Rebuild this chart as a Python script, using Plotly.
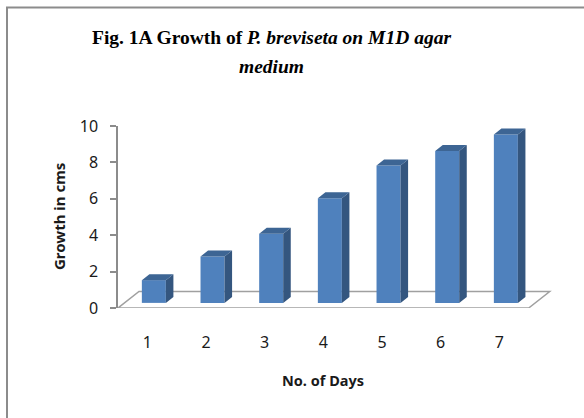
import plotly.graph_objects as go

# ---- data ----
days = [1, 2, 3, 4, 5, 6, 7]
day_labels = ["1", "2", "3", "4", "5", "6", "7"]
growth = [1.25, 2.55, 3.8, 5.75, 7.55, 8.35, 9.25]
y_ticks = [0, 2, 4, 6, 8, 10]

# ---- geometry / style ----
W, H = 584, 418
L, R, T, B = 118, 570, 126, 308          # plot area in pixels
XPX = 58.67                               # pixels per category
X0 = 0.5
X1 = X0 + (R - L) / XPX
YMAX = 10
DX = 21 / XPX                             # full depth offset (x units)
DY = 16.5 / ((B - T) / YMAX)              # full depth offset (y units)
D0, D1 = 0.31, 0.67                       # bar depth span (fraction)
BW = 24 / XPX                             # bar width

FRONT = "#4F81BD"
SIDE = "#34567F"
TOP = "#3D6594"
TXT = "#1A1A1A"


def px2paper_x(px):
    return (px - L) / (R - L)


def px2paper_y(py):
    return (B - py) / (B - T)


fig = go.Figure()

# front faces as bars
fig.add_trace(go.Bar(
    x=[d + D0 * DX for d in days],
    y=growth,
    base=[D0 * DY] * len(days),
    width=BW,
    marker=dict(color=FRONT, line=dict(width=0)),
    showlegend=False, hoverinfo="skip",
))

# side and top faces
ddx, ddy = (D1 - D0) * DX, (D1 - D0) * DY
sx, sy, tx, ty = [], [], [], []
for d, v in zip(days, growth):
    xl = d + D0 * DX - BW / 2
    xr = d + D0 * DX + BW / 2
    yb = D0 * DY
    yt = v + D0 * DY
    sx += [xr, xr + ddx, xr + ddx, xr, xr, None]
    sy += [yb, yb + ddy, yt + ddy, yt, yb, None]
    tx += [xl, xr, xr + ddx, xl + ddx, xl, None]
    ty += [yt, yt, yt + ddy, yt + ddy, yt, None]

fig.add_trace(go.Scatter(x=sx, y=sy, mode="lines", fill="toself",
                         fillcolor=SIDE, line=dict(width=0, color=SIDE),
                         showlegend=False, hoverinfo="skip", cliponaxis=False))
fig.add_trace(go.Scatter(x=tx, y=ty, mode="lines", fill="toself",
                         fillcolor=TOP, line=dict(width=0, color=TOP),
                         showlegend=False, hoverinfo="skip", cliponaxis=False))

# floor
fx0, fx1 = days[0] - 0.5, days[-1] + 0.5
floor_path = (f"M {fx0},0 L {fx1},0 L {fx1 + DX},{DY} "
              f"L {fx0 + DX},{DY} Z")

shapes = [
    dict(type="path", path=floor_path, xref="x", yref="y", layer="below",
         line=dict(color="#A0A0A0", width=1.5), fillcolor="rgba(0,0,0,0)"),
    # chart frame (left and top edges)
    dict(type="line", xref="paper", yref="paper",
         x0=px2paper_x(7), x1=px2paper_x(7),
         y0=px2paper_y(H + 5), y1=px2paper_y(7),
         line=dict(color="#8C8C8C", width=2)),
    dict(type="line", xref="paper", yref="paper",
         x0=px2paper_x(6), x1=px2paper_x(W + 5),
         y0=px2paper_y(7.5), y1=px2paper_y(7.5),
         line=dict(color="#8C8C8C", width=2)),
]

annotations = [
    dict(text="<b>Fig. 1A Growth of </b><b><i>P. breviseta on M1D agar</i></b>",
         xref="paper", yref="paper", x=px2paper_x(271), y=px2paper_y(37),
         xanchor="center", yanchor="middle", showarrow=False,
         font=dict(family="Liberation Serif", size=19.5, color="#000000")),
    dict(text="<b><i>medium</i></b>",
         xref="paper", yref="paper", x=px2paper_x(271), y=px2paper_y(66),
         xanchor="center", yanchor="middle", showarrow=False,
         font=dict(family="Liberation Serif", size=19.5, color="#000000")),
    dict(text="<b>Growth in cms</b>", textangle=-90,
         xref="paper", yref="paper", x=px2paper_x(59), y=px2paper_y(216),
         xanchor="center", yanchor="middle", showarrow=False,
         font=dict(family="Noto Sans", size=15, color=TXT)),
    dict(text="<b>No. of Days</b>",
         xref="paper", yref="paper", x=px2paper_x(323), y=px2paper_y(380),
         xanchor="center", yanchor="middle", showarrow=False,
         font=dict(family="Noto Sans", size=14.5, color=TXT)),
]

fig.update_layout(
    width=W, height=H,
    margin=dict(l=L, r=W - R, t=T, b=H - B, pad=0),
    paper_bgcolor="white", plot_bgcolor="white",
    shapes=shapes, annotations=annotations,
    showlegend=False,
    xaxis=dict(range=[X0, X1], tickvals=days, ticktext=day_labels,
               showline=False, showgrid=False, zeroline=False, ticks="",
               ticklabelstandoff=23,
               tickfont=dict(family="Noto Sans", size=16, color=TXT),
               fixedrange=True),
    yaxis=dict(range=[0, YMAX], tickvals=y_ticks,
               showline=True, linecolor="#8C8C8C", linewidth=1.5,
               ticks="outside", ticklen=6, tickcolor="#8C8C8C", tickwidth=1.5,
               showgrid=False, zeroline=False, ticklabelstandoff=9,
               tickfont=dict(family="Noto Sans", size=16, color=TXT),
               fixedrange=True),
)

fig.write_html("out.html")
